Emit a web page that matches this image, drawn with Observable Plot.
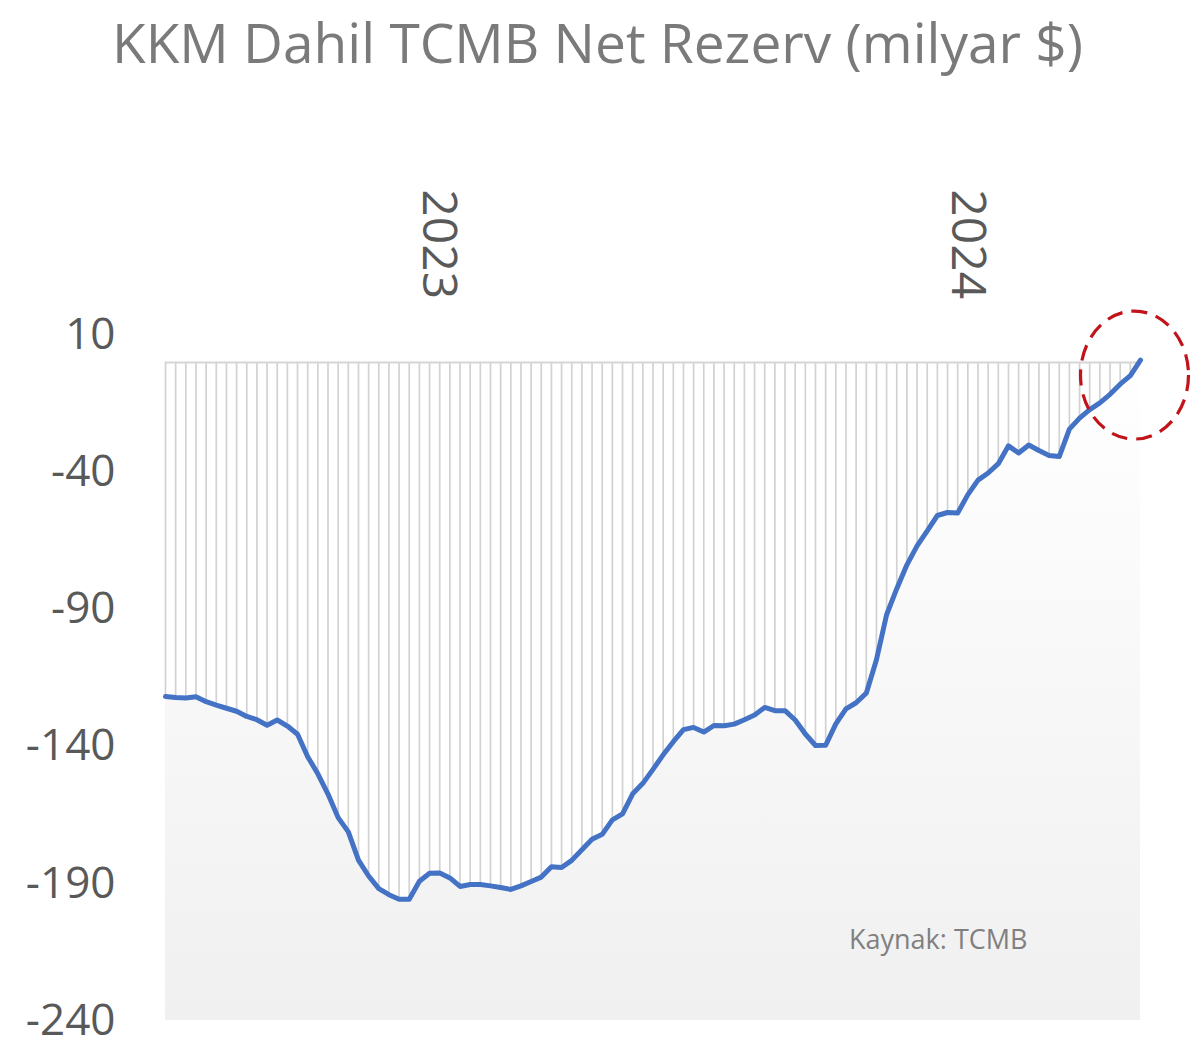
<!DOCTYPE html>
<html>
<head>
<meta charset="utf-8">
<script src="https://cdn.jsdelivr.net/npm/d3@7"></script>
<script src="https://cdn.jsdelivr.net/npm/@observablehq/plot@0.6"></script>
<style>
  html, body { margin: 0; padding: 0; background: #ffffff; }
  #title {
    height: 100px; box-sizing: border-box; padding-top: 4px;
    font-family: "Open Sans", sans-serif; font-size: 55px; line-height: 75px;
    color: #7a7a7a; text-align: center; padding-right: 5px; white-space: nowrap;
  }
</style>
</head>
<body>
<div id="title">KKM Dahil TCMB Net Rezerv (milyar $)</div>
<div id="chart"></div>
<script>
// ---- data ----
const startDate = "2022-06-27";          // first weekly observation
const reserves = [                        // milyar $, weekly
  -121.8, -122.2, -122.4, -121.9, -123.7, -125.0, -126.1, -127.2, -129.1, -130.3,
  -132.3, -130.4, -132.6, -135.6, -143.8, -150.0, -157.4, -166.0, -171.2, -181.5,
  -187.3, -191.9, -194.1, -195.8, -195.8, -189.2, -186.3, -186.2, -188.0, -191.1,
  -190.4, -190.4, -190.9, -191.5, -192.2, -190.9, -189.3, -187.7, -183.9, -184.2,
  -181.6, -177.7, -173.9, -172.1, -166.8, -164.6, -157.3, -153.5, -148.4, -143.1,
  -138.3, -133.9, -133.1, -134.8, -132.4, -132.5, -131.9, -130.3, -128.6, -125.8,
  -127.0, -127.0, -130.4, -135.5, -139.7, -139.6, -131.8, -126.3, -124.1, -120.6,
  -108.4, -92.0, -82.5, -73.8, -66.9, -61.4, -55.8, -54.7, -54.9, -48.2,
  -42.9, -40.3, -36.9, -30.4, -33.0, -30.1, -32.1, -33.9, -34.3, -24.3,
  -20.3, -17.2, -14.7, -11.6, -7.9, -4.8, 0.9
];
const yTicks = [10, -40, -90, -140, -190, -240];
const yearTicks = ["2023-01-01", "2024-01-01"];
const captionText = "Kaynak: TCMB";

// ---- build table ----
const start = new Date(startDate + "T00:00:00Z");
const weeks = reserves.map((_, i) => d3.utcDay.offset(start, i * 7));
const data = reserves.map((v, i) => ({date: weeks[i], value: v}));
const last = data[data.length - 1];
const yMin = d3.min(yTicks), yMax = d3.max(yTicks);

// ellipse symbol for the highlight
const ellipse = {
  draw(ctx) {
    const rx = 54, ry = 64, k = 0.5523;
    ctx.moveTo(rx, 0);
    ctx.bezierCurveTo(rx, ry * k, rx * k, ry, 0, ry);
    ctx.bezierCurveTo(-rx * k, ry, -rx, ry * k, -rx, 0);
    ctx.bezierCurveTo(-rx, -ry * k, -rx * k, -ry, 0, -ry);
    ctx.bezierCurveTo(rx * k, -ry, rx, -ry * k, rx, 0);
    ctx.closePath();
  }
};

const defs = () => {
  const ns = "http://www.w3.org/2000/svg";
  const d = document.createElementNS(ns, "defs");
  const g = document.createElementNS(ns, "linearGradient");
  g.setAttribute("id", "bgGrad");
  g.setAttribute("x1", "0"); g.setAttribute("y1", "0");
  g.setAttribute("x2", "0"); g.setAttribute("y2", "1");
  [["0", "#ffffff"], ["1", "#f0f0f0"]].forEach(([o, c]) => {
    const s = document.createElementNS(ns, "stop");
    s.setAttribute("offset", o); s.setAttribute("stop-color", c);
    g.appendChild(s);
  });
  d.appendChild(g);
  return d;
};

const chart = Plot.plot({
  width: 1200,
  height: 957,
  marginTop: 234.6,
  marginBottom: 37,
  marginLeft: 165,
  marginRight: 60,
  style: {fontFamily: "'Open Sans', sans-serif", background: "transparent"},
  x: {type: "utc", domain: [weeks[0], last.date]},
  y: {domain: [yMin, yMax]},
  marks: [
    defs,
    Plot.areaY(data, {x: "date", y1: yMin, y2: "value", fill: "url(#bgGrad)"}),
    Plot.ruleX(data, {x: "date", y1: 0, y2: "value", stroke: "#d2d2d2", strokeWidth: 1.7}),
    Plot.ruleY([0], {stroke: "#d6d6d6", strokeWidth: 2}),
    Plot.axisY({ticks: yTicks, tickSize: 0, tickPadding: 50, fontSize: 44,
      color: "#595959", tickFormat: d => String(d), label: null}),
    Plot.axisX({anchor: "top", ticks: yearTicks.map(s => new Date(s + "T00:00:00Z")),
      tickFormat: d3.utcFormat("%Y"), tickRotate: 90, tickSize: 0, tickPadding: 36,
      fontSize: 48, color: "#595959", label: null}),
    Plot.line(data, {x: "date", y: "value", stroke: "#4472c4", strokeWidth: 5,
      strokeLinejoin: "round", strokeLinecap: "round"}),
    Plot.text([captionText], {frameAnchor: "bottom-right", textAnchor: "end",
      dx: -113, dy: -72, fontSize: 27, fill: "#808080"}),
    Plot.dot([last], {x: "date", y: "value", symbol: ellipse, r: 10, dx: -6, dy: 15,
      fill: "none", stroke: "#c0141a", strokeWidth: 3.2, strokeDasharray: "16,9"})
  ]
});
document.getElementById("chart").appendChild(chart);
</script>
</body>
</html>
